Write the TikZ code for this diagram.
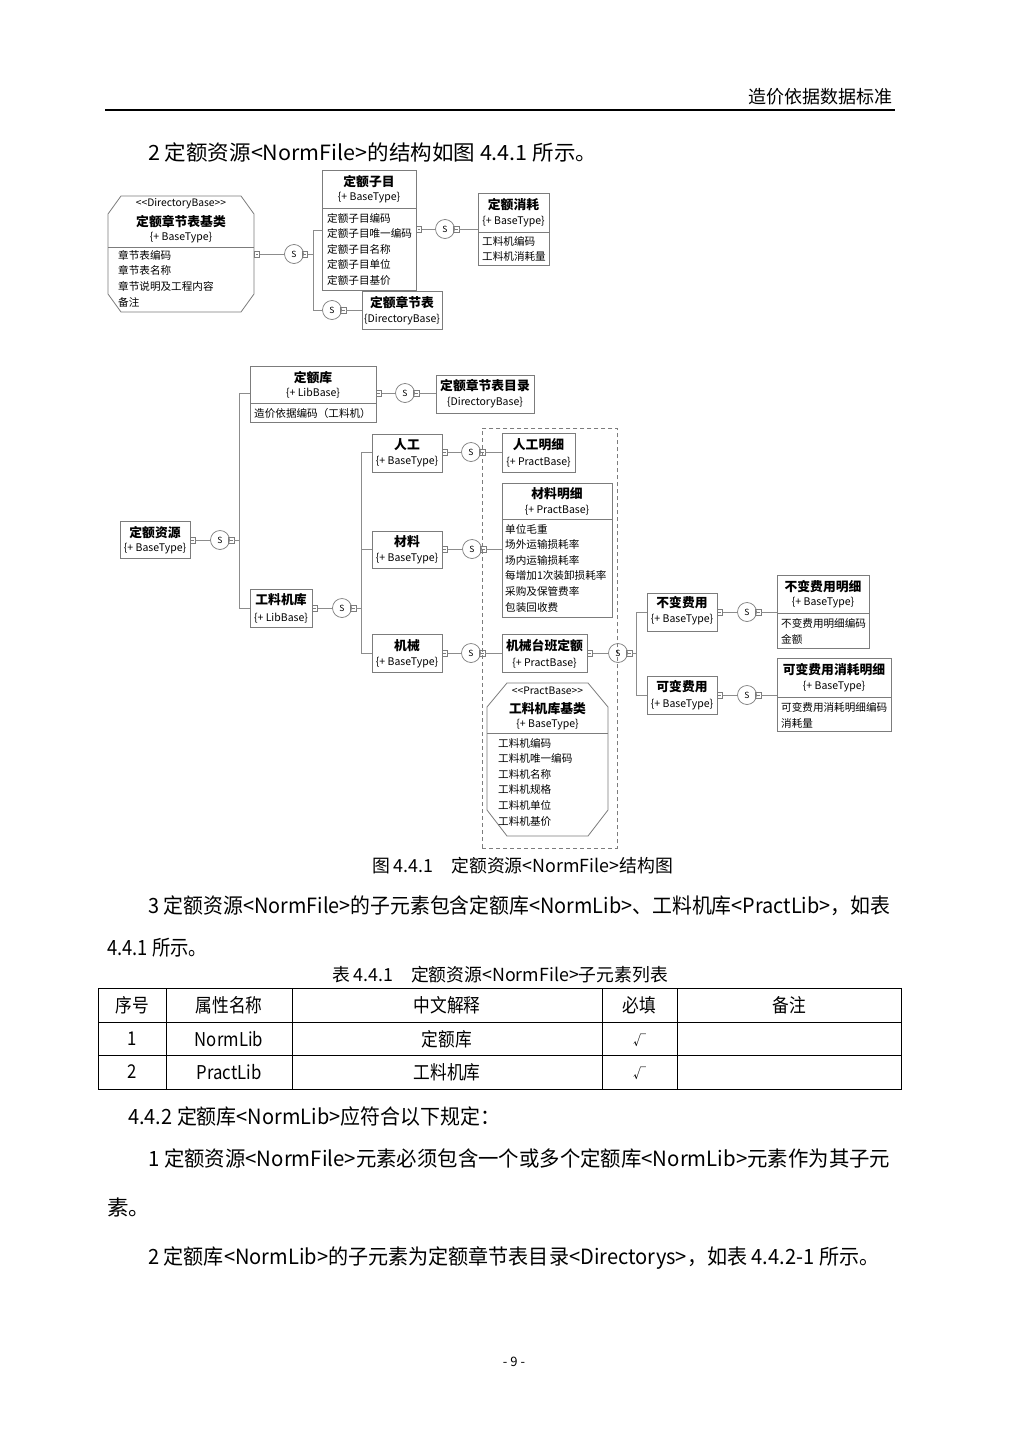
\documentclass[tikz,border=0pt]{standalone}
\usepackage{fontspec}
\usepackage{graphicx}
\setmainfont{Noto Sans CJK SC}
\usetikzlibrary{calc}
\definecolor{lgray}{HTML}{8C8C8C}
\definecolor{bgray}{HTML}{7C7C7C}
\newcommand{\fitw}[2]{\resizebox{#1pt}{\height}{#2}}
\newcommand{\fs}[1]{\fontsize{#1}{#1}\selectfont}
\newcommand{\nar}[1]{\scalebox{0.88}[1]{#1}}
\tikzset{
 ubox/.style={draw=bgray, line width=0.8pt, inner sep=0pt, outer sep=0pt, anchor=north west},
 conn/.style={draw=lgray, line width=0.8pt},
 msq/.style={draw=bgray, line width=0.6pt, inner sep=0pt, outer sep=0pt, minimum width=5.5pt, minimum height=6pt,
   path picture={\draw[line width=0.5pt,bgray] ([xshift=1.3pt]path picture bounding box.west) -- ([xshift=-1.3pt]path picture bounding box.east);}},
 seq/.style={circle, draw=bgray, line width=0.7pt, minimum size=19pt, inner sep=0pt, outer sep=0pt, font=\fs{8.5}},
 ttl/.style={font=\bfseries\fs{12.8}, inner sep=0pt},
 typ/.style={font=\fs{10.5}, inner sep=0pt},
 ster/.style={font=\fs{10.3}, inner sep=0pt},
 att/.style={font=\fs{10.6}, inner sep=0pt, anchor=west},
 body/.style={font=\fs{21}, inner sep=0pt, anchor=west},
 cell/.style={font=\fs{19}, inner sep=0pt},
 divl/.style={draw=bgray, line width=0.8pt},
}
\begin{document}
\begin{tikzpicture}[x=1pt,y=-1pt]
\fill[white] (0,0) rectangle (1024,1448);
\useasboundingbox (0,0) rectangle (1024,1448);

% header
\node[font=\fs{18}, anchor=east, inner sep=0pt] (hdr) at (893,97) {造价依据数据标准};
\draw[line width=1.6pt] (105,110) -- (895,110);

\node[body] (p1) at (148,152) {\fitw{449}{2 定额资源<NormFile>的结构如图 4.4.1 所示。}};

% ===== top diagram =====
% octagon A
\draw[draw=bgray, line width=0.8pt] (121,196) -- (241,196) -- (254,214) -- (254,294) -- (241,312) -- (121,312) -- (108,294) -- (108,214) -- cycle;
\draw[divl] (108,247) -- (254,247);
\coordinate (Ae) at (254,254);
\node[ster] (As) at (181,204) {<{}<DirectoryBase>{}>};
\node[ttl] (At) at (181,222) {定额章节表基类};
\node[typ] (Ay) at (181,238) {\{+ BaseType\}};
\foreach \t [count=\i] in {章节表编码,章节表名称,章节说明及工程内容,备注}
  \node[att] (A\i) at (118,{255+15.7*(\i-1)}) {\t};

% box B
\node[ubox, minimum width=94pt, minimum height=120pt] (B) at (322,170) {};
\node[ttl] (Bt) at (369,182) {定额子目};
\node[typ] (By) at (369,198) {\{+ BaseType\}};
\draw[divl] (B.west |- 0,208) -- (B.east |- 0,208);
\foreach \t [count=\i] in {定额子目编码,定额子目唯一编码,定额子目名称,定额子目单位,定额子目基价}
  \node[att] (B\i) at (327,{218+15.5*(\i-1)}) {\t};

% box C
\node[ubox, minimum width=71pt, minimum height=72pt] (C) at (478,193) {};
\node[ttl] (Ct) at (513.5,205) {定额消耗};
\node[typ] (Cy) at (513.5,222) {\{+ BaseType\}};
\draw[divl] (C.west |- 0,232) -- (C.east |- 0,232);
\node[att] (C1) at (482,241) {工料机编码};
\node[att] (C2) at (482,256) {工料机消耗量};

% box D
\node[ubox, minimum width=80pt, minimum height=38pt] (D) at (362,291) {};
\node[ttl] (Dt) at (402,303) {定额章节表};
\node[typ] (Dy) at (402,320) {\{DirectoryBase\}};

% connectors top
\node[msq] (s1) at (257,254) {};
\node[seq] (c1) at (294,254) {S};
\node[msq] (s2) at (305,254) {};
\coordinate (j1) at (313,254);
\coordinate (j1t) at (313,230);
\coordinate (j1b) at (313,310);
\draw[conn] (s1.east) -- (c1.west);
\draw[conn] (s2.east) -- (j1);
\draw[conn] (j1t) -- (j1b);
\draw[conn] (j1t) -- (j1t -| B.west);
\node[seq] (c2) at (332,310) {S};
\node[msq] (s3) at (343.5,310) {};
\draw[conn] (j1b) -- (c2.west);
\draw[conn] (s3.east) -- (s3.east -| D.west);
\node[msq] (s4) at (419,229) {};
\node[seq] (c3) at (445,229) {S};
\node[msq] (s5) at (456.5,229) {};
\draw[conn] (s4.east) -- (c3.west);
\draw[conn] (s5.east) -- (s5.east -| C.west);

% ===== middle diagram =====
% E
\node[ubox, minimum width=70pt, minimum height=37pt] (E) at (120,521) {};
\node[ttl] (Et) at (155,533) {定额资源};
\node[typ] (Ey) at (155,549) {\{+ BaseType\}};
\node[msq] (se1) at (192.75,540) {};
\node[seq] (ce) at (220,540) {S};
\node[msq] (se2) at (231.5,540) {};
\coordinate (jE) at (239,540);
\coordinate (jEt) at (239,393);
\coordinate (jEb) at (239,608);
\draw[conn] (se1.east) -- (ce.west);
\draw[conn] (se2.east) -- (jE);
\draw[conn] (jEt) -- (jEb);

% F
\node[ubox, minimum width=126pt, minimum height=56pt] (F) at (250,366) {};
\node[ttl] (Ft) at (313,378) {定额库};
\node[typ] (Fy) at (313,393) {\{+ LibBase\}};
\draw[divl] (F.west |- 0,403) -- (F.east |- 0,403);
\node[att] (F1) at (254,413) {造价依据编码（工料机）};
\draw[conn] (jEt) -- (jEt -| F.west);
\node[msq] (sf1) at (378.75,393) {};
\node[seq] (cf) at (405,393) {S};
\node[msq] (sf2) at (416.5,393) {};
% G
\node[ubox, minimum width=98pt, minimum height=38pt] (G) at (436,375) {};
\node[ttl] (Gt) at (485,386) {定额章节表目录};
\node[typ] (Gy) at (485,403) {\{DirectoryBase\}};
\draw[conn] (sf1.east) -- (cf.west);
\draw[conn] (sf2.east) -- (sf2.east -| G.west);

% H
\node[ubox, minimum width=62pt, minimum height=38pt] (H) at (250,589) {};
\node[ttl] (Ht) at (281,600) {工料机库};
\node[typ] (Hy) at (281,618) {\{+ LibBase\}};
\draw[conn] (jEb) -- (jEb -| H.west);
\node[msq] (sh1) at (314.75,608) {};
\node[seq] (ch) at (342,608) {S};
\node[msq] (sh2) at (353.5,608) {};
\coordinate (jH) at (361,608);
\coordinate (jHt) at (361,452);
\coordinate (jHm) at (361,549);
\coordinate (jHb) at (361,653);
\draw[conn] (sh1.east) -- (ch.west);
\draw[conn] (sh2.east) -- (jH);
\draw[conn] (jHt) -- (jHb);

% dashed group
\node[draw=bgray, dashed, line width=0.8pt, dash pattern=on 4pt off 3pt, inner sep=0pt, anchor=north west, minimum width=135pt, minimum height=420pt] (grp) at (482,428) {};

% I
\node[ubox, minimum width=70pt, minimum height=38pt] (I) at (372,434) {};
\node[ttl] (It) at (407,445) {人工};
\node[typ] (Iy) at (407,462) {\{+ BaseType\}};
\draw[conn] (jHt) -- (jHt -| I.west);
\node[msq] (si1) at (444.75,452) {};
\node[seq] (ci) at (471,452) {S};
\node[msq] (si2) at (482.5,452) {};
% J
\node[ubox, minimum width=73pt, minimum height=39pt] (J) at (502,433) {};
\node[ttl] (Jt) at (538.5,445) {人工明细};
\node[typ] (Jy) at (538.5,462) {\{+ PractBase\}};
\draw[conn] (si1.east) -- (ci.west);
\draw[conn] (si2.east) -- (si2.east -| J.west);

% K
\node[ubox, minimum width=70pt, minimum height=37pt] (K) at (372,531) {};
\node[ttl] (Kt) at (407,542) {材料};
\node[typ] (Ky) at (407,559) {\{+ BaseType\}};
\draw[conn] (jHm) -- (jHm -| K.west);
\node[msq] (sk1) at (444.75,549) {};
\node[seq] (ck) at (472,549) {S};
\node[msq] (sk2) at (483.5,549) {};
% L
\node[ubox, minimum width=110pt, minimum height=134pt] (L) at (502,483) {};
\node[ttl] (Lt) at (557,494) {材料明细};
\node[typ] (Ly) at (557,510) {\{+ PractBase\}};
\draw[divl] (L.west |- 0,519) -- (L.east |- 0,519);
\foreach \t [count=\i] in {单位毛重,场外运输损耗率,场内运输损耗率,每增加1次装卸损耗率,采购及保管费率,包装回收费}
  \node[att] (L\i) at (505,{529+15.6*(\i-1)}) {\t};
\draw[conn] (sk1.east) -- (ck.west);
\draw[conn] (sk2.east) -- (sk2.east -| L.west);

% M
\node[ubox, minimum width=70pt, minimum height=38pt] (M) at (372,634) {};
\node[ttl] (Mt) at (407,646) {机械};
\node[typ] (My) at (407,663) {\{+ BaseType\}};
\draw[conn] (jHb) -- (jHb -| M.west);
\node[msq] (sm1) at (444.75,653) {};
\node[seq] (cm) at (471,653) {S};
\node[msq] (sm2) at (482.5,653) {};
% N
\node[ubox, minimum width=85pt, minimum height=38pt] (N) at (502,634) {};
\node[ttl] (Nt) at (544.5,646) {机械台班定额};
\node[typ] (Ny) at (544.5,663) {\{+ PractBase\}};
\draw[conn] (sm1.east) -- (cm.west);
\draw[conn] (sm2.east) -- (sm2.east -| N.west);
\node[msq] (sn1) at (589.75,653) {};
\node[seq] (cn) at (618,653) {S};
\node[msq] (sn2) at (629.5,653) {};
\coordinate (jN) at (636,653);
\coordinate (jNt) at (636,612);
\coordinate (jNb) at (636,695);
\draw[conn] (sn1.east) -- (cn.west);
\draw[conn] (sn2.east) -- (jN);
\draw[conn] (jNt) -- (jNb);

% octagon O
\draw[draw=bgray, line width=0.8pt] (507,683) -- (588,683) -- (608,707) -- (608,810) -- (588,836) -- (507,836) -- (487,810) -- (487,707) -- cycle;
\draw[divl] (487,733) -- (608,733);
\node[ster] (Os) at (547.5,691) {<{}<PractBase>{}>};
\node[ttl] (Ot) at (547.5,709) {工料机库基类};
\node[typ] (Oy) at (547.5,725) {\{+ BaseType\}};
\foreach \t [count=\i] in {工料机编码,工料机唯一编码,工料机名称,工料机规格,工料机单位,工料机基价}
  \node[att] (O\i) at (498,{743+15.6*(\i-1)}) {\t};

% Q
\node[ubox, minimum width=70pt, minimum height=38pt] (Q) at (647,593) {};
\node[ttl] (Qt) at (682,603) {不变费用};
\node[typ] (Qy) at (682,620) {\{+ BaseType\}};
\draw[conn] (jNt) -- (jNt -| Q.west);
\node[msq] (sq1) at (719.75,612) {};
\node[seq] (cq) at (747,612) {S};
\node[msq] (sq2) at (758.5,612) {};
% R
\node[ubox, minimum width=92pt, minimum height=73pt] (R) at (777,575) {};
\node[ttl] (Rt) at (823,587) {不变费用明细};
\node[typ] (Ry) at (823,603) {\{+ BaseType\}};
\draw[divl] (R.west |- 0,613) -- (R.east |- 0,613);
\node[att] (R1) at (781,623) {不变费用明细编码};
\node[att] (R2) at (781,639) {金额};
\draw[conn] (sq1.east) -- (cq.west);
\draw[conn] (sq2.east) -- (sq2.east -| R.west);

% S
\node[ubox, minimum width=70pt, minimum height=38pt] (S) at (647,676) {};
\node[ttl] (St) at (682,687) {可变费用};
\node[typ] (Sy) at (682,705) {\{+ BaseType\}};
\draw[conn] (jNb) -- (jNb -| S.west);
\node[msq] (ss1) at (719.75,695) {};
\node[seq] (cs) at (747,695) {S};
\node[msq] (ss2) at (758.5,695) {};
% T
\node[ubox, minimum width=114pt, minimum height=73pt] (T) at (777,658) {};
\node[ttl] (Tt) at (834,670) {可变费用消耗明细};
\node[typ] (Ty) at (834,687) {\{+ BaseType\}};
\draw[divl] (T.west |- 0,697) -- (T.east |- 0,697);
\node[att] (T1) at (781,707) {可变费用消耗明细编码};
\node[att] (T2) at (781,723) {消耗量};
\draw[conn] (ss1.east) -- (cs.west);
\draw[conn] (ss2.east) -- (ss2.east -| T.west);

% caption
\node[font=\fs{18}, inner sep=0pt] (cap) at (522.5,866) {\fitw{301}{图 4.4.1\quad 定额资源<NormFile>结构图}};

% paragraph 3
\node[body] (p3) at (148,906) {\fitw{742}{3 定额资源<NormFile>的子元素包含定额库<NormLib>、工料机库<PractLib>，如表}};
\node[body] (p3b) at (107,948) {\fitw{100}{4.4.1 所示。}};

% table
\node[font=\fs{18}, inner sep=0pt] (tcap) at (500,975) {\fitw{336}{表 4.4.1\quad 定额资源<NormFile>子元素列表}};
\draw[line width=1pt] (98,988) rectangle (901,1089);
\foreach \yy in {1022,1055} \draw[line width=0.9pt] (98,\yy) -- (901,\yy);
\foreach \xx in {166,292,602,677} \draw[line width=0.9pt] (\xx,988) -- (\xx,1089);
\node[cell] (h1) at (132,1005) {\nar{序号}};
\node[cell] (h2) at (229,1005) {\nar{属性名称}};
\node[cell] (h3) at (447,1005) {\nar{中文解释}};
\node[cell] (h4) at (639.5,1005) {\nar{必填}};
\node[cell] (h5) at (789,1005) {\nar{备注}};
\node[cell] (r11) at (132,1039) {\nar{1}};
\node[cell] (r12) at (229,1039) {\nar{NormLib}};
\node[cell] (r13) at (447,1039) {\nar{定额库}};
\node[cell, font=\fs{13}] (r14) at (639.5,1040) {√};
\node[cell] (r21) at (132,1072) {\nar{2}};
\node[cell] (r22) at (229,1072) {\nar{PractLib}};
\node[cell] (r23) at (447,1072) {\nar{工料机库}};
\node[cell, font=\fs{13}] (r24) at (639.5,1073) {√};

% paragraphs 4.4.2
\node[body] (p4) at (128,1116) {\fitw{372}{4.4.2 定额库<NormLib>应符合以下规定：}};
\node[body] (p5) at (148,1158) {\fitw{742}{1 定额资源<NormFile>元素必须包含一个或多个定额库<NormLib>元素作为其子元}};
\node[body] (p5b) at (107,1207) {\fitw{43}{素。}};
\node[body] (p6) at (148,1258) {\fitw{731}{2 定额库<NormLib>的子元素为定额章节表目录<Directorys>，如表 4.4.2-1 所示。}};

\node[font=\fs{13}, inner sep=0pt] (pg) at (514,1362) {- 9 -};
\end{tikzpicture}
\end{document}
